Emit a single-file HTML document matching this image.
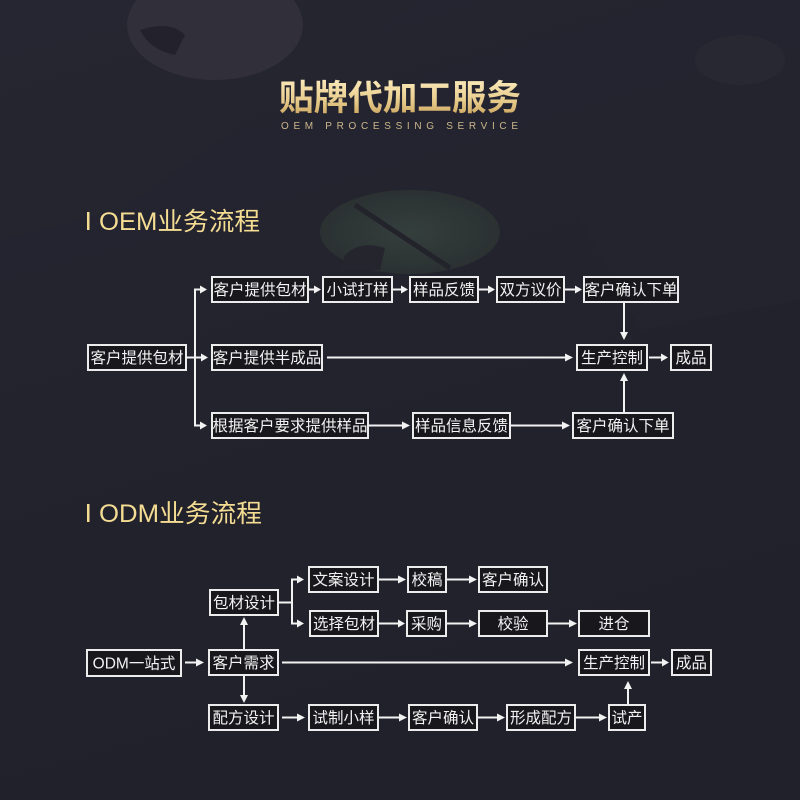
<!DOCTYPE html>
<html><head><meta charset="utf-8"><style>
html,body{margin:0;padding:0;background:#22222c;}
svg{display:block;}
.b{fill:#17171c;stroke:#ececec;stroke-width:2;}
.t{fill:#f2f2f2;font-family:"Liberation Sans","Noto Sans CJK SC",sans-serif;font-size:15.5px;text-anchor:middle;}
.l{stroke:#f2f2f2;stroke-width:2;fill:none;}
.a{fill:#f2f2f2;}
</style></head><body>
<svg width="800" height="800" viewBox="0 0 800 800" xmlns="http://www.w3.org/2000/svg">
<defs>
<linearGradient id="bg" x1="0" y1="0" x2="0.3" y2="1">
<stop offset="0" stop-color="#262632"/><stop offset="0.5" stop-color="#23232e"/><stop offset="1" stop-color="#21212b"/>
</linearGradient>
<linearGradient id="gold" x1="0" y1="0" x2="0" y2="1">
<stop offset="0" stop-color="#fbeabb"/><stop offset="0.55" stop-color="#e8cc8c"/><stop offset="1" stop-color="#c9a05a"/>
</linearGradient>
<radialGradient id="grn" cx="0.5" cy="0.5" r="0.5">
<stop offset="0" stop-color="#343f3c"/><stop offset="1" stop-color="#2b3132"/>
</radialGradient>
</defs>
<rect width="800" height="800" fill="url(#bg)"/>
<!-- background textures -->
<polygon points="0,60 260,0 420,0 120,210 0,240" fill="#262631" opacity="0.6"/>
<ellipse cx="215" cy="25" rx="88" ry="55" fill="#302f3a"/>
<path d="M140,30 Q170,20 185,35 L175,55 Q150,50 140,30Z" fill="#23222c"/>
<polygon points="560,180 800,100 800,300 640,330" fill="#252530" opacity="0.6"/>
<ellipse cx="410" cy="232" rx="90" ry="42" fill="url(#grn)"/>
<path d="M345,255 Q360,240 385,248 L380,270 L340,270Z" fill="#25252e"/>
<line x1="355" y1="205" x2="450" y2="268" stroke="#23232c" stroke-width="5"/>
<ellipse cx="740" cy="60" rx="45" ry="25" fill="#282832"/>

<!-- title -->
<text x="400" y="110" text-anchor="middle" fill="url(#gold)" font-family="'Liberation Sans','Noto Sans CJK SC',sans-serif" font-size="35" font-weight="bold" textLength="242" lengthAdjust="spacingAndGlyphs">贴牌代加工服务</text>
<text x="281" y="129" fill="#cbb78c" font-family="'Liberation Sans',sans-serif" font-size="10" textLength="237" lengthAdjust="spacing">OEM PROCESSING SERVICE</text>

<!-- OEM heading -->
<rect x="87" y="212" width="2.5" height="18" fill="#f4dc92"/>
<text x="99" y="230" fill="#f4dc92" font-family="'Liberation Sans','Noto Sans CJK SC',sans-serif" font-size="25" textLength="161" lengthAdjust="spacingAndGlyphs">OEM业务流程</text>

<!-- OEM flow -->
<g>
<rect class="b" x="88" y="345" width="98" height="25"/><text class="t" x="137" y="363">客户提供包材</text>
<line class="l" x1="186" y1="357.5" x2="204" y2="357.5"/><polygon class="a" points="208,357.5 201,353.5 201,361.5"/>
<line class="l" x1="195" y1="289" x2="195" y2="426"/>
<line class="l" x1="194" y1="289.5" x2="202" y2="289.5"/><polygon class="a" points="207,289.5 200,285.5 200,293.5"/>
<line class="l" x1="194" y1="425.5" x2="202" y2="425.5"/><polygon class="a" points="207,425.5 200,421.5 200,429.5"/>

<rect class="b" x="212" y="277" width="96" height="25"/><text class="t" x="260" y="295">客户提供包材</text>
<line class="l" x1="309" y1="289.5" x2="316" y2="289.5"/><polygon class="a" points="321,289.5 314,285.5 314,293.5"/>
<rect class="b" x="323" y="277" width="69" height="25"/><text class="t" x="357.5" y="295">小试打样</text>
<line class="l" x1="393" y1="289.5" x2="403" y2="289.5"/><polygon class="a" points="408,289.5 401,285.5 401,293.5"/>
<rect class="b" x="410" y="277" width="68" height="25"/><text class="t" x="444" y="295">样品反馈</text>
<line class="l" x1="479" y1="289.5" x2="490" y2="289.5"/><polygon class="a" points="495,289.5 488,285.5 488,293.5"/>
<rect class="b" x="497" y="277" width="67" height="25"/><text class="t" x="530.5" y="295">双方议价</text>
<line class="l" x1="565" y1="289.5" x2="577" y2="289.5"/><polygon class="a" points="582,289.5 575,285.5 575,293.5"/>
<rect class="b" x="584" y="277" width="94" height="25"/><text class="t" x="631" y="295">客户确认下单</text>
<line class="l" x1="624" y1="303" x2="624" y2="334"/><polygon class="a" points="624,340 620,332 628,332"/>

<rect class="b" x="212" y="345" width="110" height="25"/><text class="t" x="267" y="363">客户提供半成品</text>
<line class="l" x1="327" y1="357.5" x2="567" y2="357.5"/><polygon class="a" points="573,357.5 565,353.5 565,361.5"/>
<rect class="b" x="577" y="345" width="70" height="25"/><text class="t" x="612" y="363">生产控制</text>
<line class="l" x1="649" y1="357.5" x2="663" y2="357.5"/><polygon class="a" points="668,357.5 661,353.5 661,361.5"/>
<rect class="b" x="671" y="345" width="40" height="25"/><text class="t" x="691" y="363">成品</text>
<line class="l" x1="624" y1="412" x2="624" y2="380"/><polygon class="a" points="624,373 620,381 628,381"/>

<rect class="b" x="212" y="413" width="156" height="25"/><text class="t" x="290" y="431">根据客户要求提供样品</text>
<line class="l" x1="369" y1="425.5" x2="404" y2="425.5"/><polygon class="a" points="410,425.5 402,421.5 402,429.5"/>
<rect class="b" x="413" y="413" width="97" height="25"/><text class="t" x="461.5" y="431">样品信息反馈</text>
<line class="l" x1="511" y1="425.5" x2="564" y2="425.5"/><polygon class="a" points="570,425.5 562,421.5 562,429.5"/>
<rect class="b" x="573" y="413" width="100" height="25"/><text class="t" x="623" y="431">客户确认下单</text>
</g>

<!-- ODM heading -->
<rect x="87" y="504" width="2.5" height="18" fill="#f4dc92"/>
<text x="99" y="522" fill="#f4dc92" font-family="'Liberation Sans','Noto Sans CJK SC',sans-serif" font-size="25" textLength="163" lengthAdjust="spacingAndGlyphs">ODM业务流程</text>

<!-- ODM flow -->
<g>
<rect class="b" x="309" y="567" width="69" height="25"/><text class="t" x="343.5" y="585">文案设计</text>
<line class="l" x1="379" y1="579.5" x2="400" y2="579.5"/><polygon class="a" points="406,579.5 398,575.5 398,583.5"/>
<rect class="b" x="408" y="567" width="38" height="25"/><text class="t" x="427" y="585">校稿</text>
<line class="l" x1="447" y1="579.5" x2="471" y2="579.5"/><polygon class="a" points="477,579.5 469,575.5 469,583.5"/>
<rect class="b" x="479" y="567" width="68" height="25"/><text class="t" x="513" y="585">客户确认</text>

<rect class="b" x="210" y="590" width="68" height="25"/><text class="t" x="244" y="608">包材设计</text>
<line class="l" x1="278" y1="602.5" x2="292" y2="602.5"/>
<line class="l" x1="292" y1="579" x2="292" y2="624"/>
<line class="l" x1="291" y1="579.5" x2="299" y2="579.5"/><polygon class="a" points="304,579.5 297,575.5 297,583.5"/>
<line class="l" x1="291" y1="623.5" x2="299" y2="623.5"/><polygon class="a" points="304,623.5 297,619.5 297,627.5"/>

<rect class="b" x="310" y="611" width="68" height="25"/><text class="t" x="344" y="629">选择包材</text>
<line class="l" x1="379" y1="623.5" x2="400" y2="623.5"/><polygon class="a" points="405,623.5 398,619.5 398,627.5"/>
<rect class="b" x="407" y="611" width="39" height="25"/><text class="t" x="426.5" y="629">采购</text>
<line class="l" x1="447" y1="623.5" x2="471" y2="623.5"/><polygon class="a" points="477,623.5 469,619.5 469,627.5"/>
<rect class="b" x="479" y="611" width="68" height="25"/><text class="t" x="513" y="629">校验</text>
<line class="l" x1="548" y1="623.5" x2="571" y2="623.5"/><polygon class="a" points="577,623.5 569,619.5 569,627.5"/>
<rect class="b" x="579" y="611" width="70" height="25"/><text class="t" x="614" y="629">进仓</text>

<rect class="b" x="87" y="650" width="94" height="26"/><text class="t" x="134" y="668.5">ODM一站式</text>
<line class="l" x1="185" y1="662.5" x2="198" y2="662.5"/><polygon class="a" points="204,662.5 196,658.5 196,666.5"/>
<rect class="b" x="209" y="650" width="69" height="25"/><text class="t" x="243.5" y="668">客户需求</text>
<line class="l" x1="244" y1="649" x2="244" y2="624"/><polygon class="a" points="244,617 240,625 248,625"/>
<line class="l" x1="244" y1="676" x2="244" y2="696"/><polygon class="a" points="244,703 240,695 248,695"/>
<line class="l" x1="282" y1="662.5" x2="567" y2="662.5"/><polygon class="a" points="573,662.5 565,658.5 565,666.5"/>
<rect class="b" x="579" y="650" width="70" height="25"/><text class="t" x="614" y="668">生产控制</text>
<line class="l" x1="651" y1="662.5" x2="664" y2="662.5"/><polygon class="a" points="669,662.5 662,658.5 662,666.5"/>
<rect class="b" x="672" y="650" width="39" height="25"/><text class="t" x="691.5" y="668">成品</text>
<line class="l" x1="628" y1="704" x2="628" y2="688"/><polygon class="a" points="628,681 624,689 632,689"/>

<rect class="b" x="209" y="705" width="69" height="25"/><text class="t" x="243.5" y="723">配方设计</text>
<line class="l" x1="282" y1="717.5" x2="299" y2="717.5"/><polygon class="a" points="305,717.5 297,713.5 297,721.5"/>
<rect class="b" x="309" y="705" width="69" height="25"/><text class="t" x="343.5" y="723">试制小样</text>
<line class="l" x1="379" y1="717.5" x2="401" y2="717.5"/><polygon class="a" points="407,717.5 399,713.5 399,721.5"/>
<rect class="b" x="409" y="705" width="68" height="25"/><text class="t" x="443" y="723">客户确认</text>
<line class="l" x1="478" y1="717.5" x2="499" y2="717.5"/><polygon class="a" points="505,717.5 497,713.5 497,721.5"/>
<rect class="b" x="507" y="705" width="68" height="25"/><text class="t" x="541" y="723">形成配方</text>
<line class="l" x1="576" y1="717.5" x2="601" y2="717.5"/><polygon class="a" points="607,717.5 599,713.5 599,721.5"/>
<rect class="b" x="609" y="705" width="36" height="25"/><text class="t" x="627" y="723">试产</text>
</g>
</svg>
</body></html>
